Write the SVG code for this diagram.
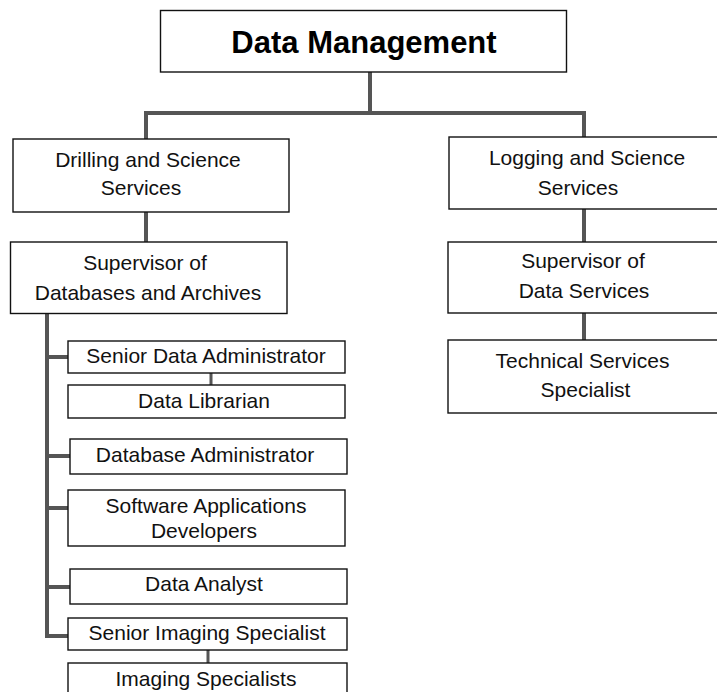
<svg xmlns="http://www.w3.org/2000/svg" width="717" height="692" viewBox="0 0 717 692">
  <style>
    .box { fill: #ffffff; stroke: #111111; stroke-width: 1.4; }
    .lbl { font-family: "Liberation Sans", Arial, Helvetica, sans-serif; font-size: 21px; fill: #111111; text-anchor: middle; }
    .title { font-family: "Liberation Sans", Arial, Helvetica, sans-serif; font-size: 31px; font-weight: bold; fill: #000000; text-anchor: middle; }
    .link { fill: none; stroke: #555555; stroke-width: 4; stroke-linecap: butt; }
    .link-thin { fill: none; stroke: #555555; stroke-width: 3; }
  </style>
  <rect width="717" height="692" fill="#ffffff"/>

  <!-- connectors -->
  <g id="connectors">
    <path class="link" d="M370 72 V113 M144 113 H586 M146 113 V139 M584 113 V137"/>
    <path class="link" d="M146 212 V242 M584 209 V242 M584 313 V340"/>
    <path class="link" d="M47 313 V638 M47 357 H68 M47 456 H70 M47 508 H68 M47 587 H70 M45 636 H68"/>
    <path class="link-thin" d="M211 373 V385 M208 650 V663"/>
  </g>

  <g id="data-management">
    <rect class="box" x="160.5" y="10.5" width="406" height="61.5"/>
    <text class="title" x="364" y="53">Data Management</text>
  </g>

  <g id="drilling-science">
    <rect class="box" x="13" y="139" width="276" height="73"/>
    <text class="lbl" x="148" y="167">Drilling and Science</text>
    <text class="lbl" x="141" y="195">Services</text>
  </g>

  <g id="logging-science">
    <rect class="box" x="449" y="137" width="280" height="72"/>
    <text class="lbl" x="587" y="165">Logging and Science</text>
    <text class="lbl" x="578" y="195">Services</text>
  </g>

  <g id="supervisor-databases">
    <rect class="box" x="10.5" y="242" width="276.5" height="71.5"/>
    <text class="lbl" x="145" y="270">Supervisor of</text>
    <text class="lbl" x="148" y="300">Databases and Archives</text>
  </g>

  <g id="supervisor-data-services">
    <rect class="box" x="448" y="242" width="280" height="71"/>
    <text class="lbl" x="583" y="268">Supervisor of</text>
    <text class="lbl" x="584" y="298">Data Services</text>
  </g>

  <g id="technical-services">
    <rect class="box" x="448" y="340" width="280" height="73"/>
    <text class="lbl" x="582.5" y="368">Technical Services</text>
    <text class="lbl" x="585.5" y="397">Specialist</text>
  </g>

  <g id="senior-data-admin">
    <rect class="box" x="68" y="341" width="277" height="32"/>
    <text class="lbl" x="206" y="363">Senior Data Administrator</text>
  </g>

  <g id="data-librarian">
    <rect class="box" x="68" y="385" width="277" height="33"/>
    <text class="lbl" x="204" y="408">Data Librarian</text>
  </g>

  <g id="database-admin">
    <rect class="box" x="70" y="439" width="277" height="35"/>
    <text class="lbl" x="205" y="462">Database Administrator</text>
  </g>

  <g id="software-developers">
    <rect class="box" x="68" y="490" width="277" height="56"/>
    <text class="lbl" x="206" y="513">Software Applications</text>
    <text class="lbl" x="204" y="538">Developers</text>
  </g>

  <g id="data-analyst">
    <rect class="box" x="70" y="569" width="277" height="35"/>
    <text class="lbl" x="204" y="591">Data Analyst</text>
  </g>

  <g id="senior-imaging">
    <rect class="box" x="68" y="618" width="279" height="32"/>
    <text class="lbl" x="207" y="640">Senior Imaging Specialist</text>
  </g>

  <g id="imaging-specialists">
    <rect class="box" x="68" y="663" width="279" height="40"/>
    <text class="lbl" x="206" y="686">Imaging Specialists</text>
  </g>
</svg>
